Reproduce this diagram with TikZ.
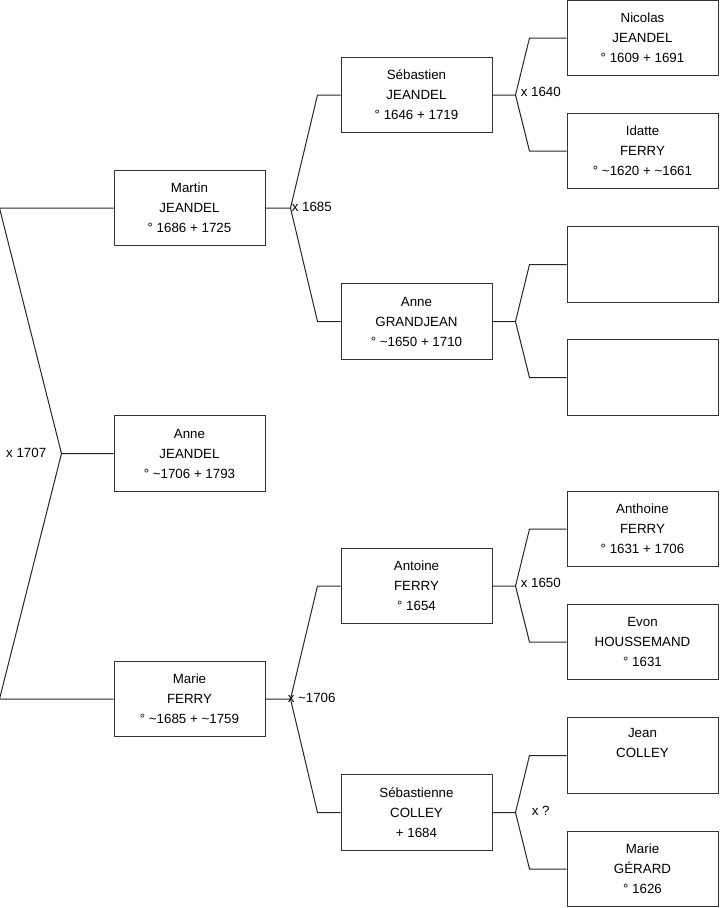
\documentclass[tikz,border=0pt]{standalone}
\usepackage{fontspec}
\setmainfont{Liberation Sans}
\usetikzlibrary{calc}
\begin{document}
\begin{tikzpicture}[x=0.75pt,y=-0.75pt,
  person/.style={draw=black!80,line width=0.75pt,rectangle,minimum width=113.25pt,minimum height=56.5pt,inner sep=0pt,align=center,font=\fontsize{10}{15}\selectfont},
  link/.style={line width=0.75pt,black!85},
  union/.style={font=\fontsize{10}{12}\selectfont,inner sep=0pt}]
\useasboundingbox (0,0) rectangle (719,908);
% generation 1
\node[person] (M) at (189.5,208) {Martin\\JEANDEL\\° 1686 + 1725};
\node[person] (A) at (189.5,453.5) {Anne\\JEANDEL\\° \textasciitilde1706 + 1793};
\node[person] (F) at (189.5,699) {Marie\\FERRY\\° \textasciitilde1685 + \textasciitilde1759};
% generation 2
\node[person] (S) at (416.5,95) {Sébastien\\JEANDEL\\° 1646 + 1719};
\node[person] (G) at (416.5,321.5) {Anne\\GRANDJEAN\\° \textasciitilde1650 + 1710};
\node[person] (T) at (416.5,586) {Antoine\\FERRY\\° 1654};
\node[person] (C) at (416.5,812.5) {Sébastienne\\COLLEY\\+ 1684};
% generation 3
\node[person] (N) at (642.5,38) {Nicolas\\JEANDEL\\° 1609 + 1691};
\node[person] (I) at (642.5,151) {Idatte\\FERRY\\° \textasciitilde1620 + \textasciitilde1661};
\node[person] (E1) at (642.5,264.5) {};
\node[person] (E2) at (642.5,377.5) {};
\node[person] (H) at (642.5,529) {Anthoine\\FERRY\\° 1631 + 1706};
\node[person] (V) at (642.5,642) {Evon\\HOUSSEMAND\\° 1631};
\node[person] (J) at (642.5,755.5) {Jean\\COLLEY\\\strut};
\node[person] (R) at (642.5,869) {Marie\\GÉRARD\\° 1626};
% forks
\draw[link] (A.west) -- ++(-52,0) coordinate (jA) -- ($(M.west)+(-114,0)$) -- (M.west);
\draw[link] (jA) -- ($(F.west)+(-114,0)$) -- (F.west);
\draw[link] (M.east) -- ++(25,0) coordinate (jM) -- ($(S.west)+(-23,0)$) -- (S.west);
\draw[link] (jM) -- ($(G.west)+(-23,0)$) -- (G.west);
\draw[link] (F.east) -- ++(25,0) coordinate (jF) -- ($(T.west)+(-23,0)$) -- (T.west);
\draw[link] (jF) -- ($(C.west)+(-23,0)$) -- (C.west);
\draw[link] (S.east) -- ++(23,0) coordinate (jS) -- ($(N.west)+(-37,0)$) -- (N.west);
\draw[link] (jS) -- ($(I.west)+(-37,0)$) -- (I.west);
\draw[link] (G.east) -- ++(23,0) coordinate (jG) -- ($(E1.west)+(-37,0)$) -- (E1.west);
\draw[link] (jG) -- ($(E2.west)+(-37,0)$) -- (E2.west);
\draw[link] (T.east) -- ++(23,0) coordinate (jT) -- ($(H.west)+(-37,0)$) -- (H.west);
\draw[link] (jT) -- ($(V.west)+(-37,0)$) -- (V.west);
\draw[link] (C.east) -- ++(23,0) coordinate (jC) -- ($(J.west)+(-37,0)$) -- (J.west);
\draw[link] (jC) -- ($(R.west)+(-37,0)$) -- (R.west);
% union labels
\node[union,anchor=east] (uA) at ($(jA)+(-15,-1)$) {x 1707};
\node[union,anchor=west] (uM) at ($(jM)+(1,-1)$) {x 1685};
\node[union,anchor=west] (uF) at ($(jF)+(-3,-1)$) {x \textasciitilde1706};
\node[union,anchor=west] (uS) at ($(jS)+(5,-3)$) {x 1640};
\node[union,anchor=west] (uT) at ($(jT)+(5,-3)$) {x 1650};
\node[union,anchor=west] (uC) at ($(jC)+(16,-2)$) {x ?};
\end{tikzpicture}
\end{document}
